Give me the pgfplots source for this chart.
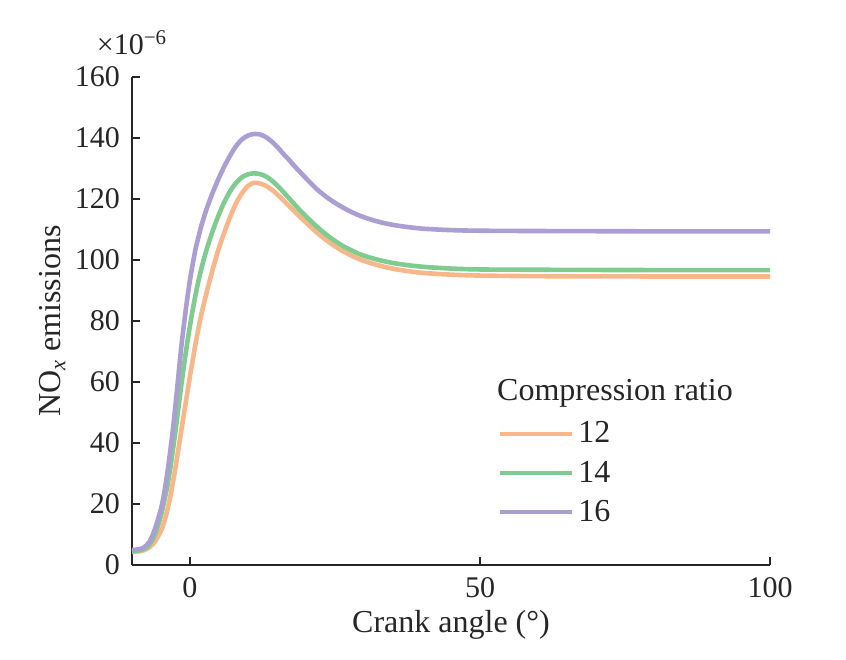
\documentclass[border=0pt]{standalone}
\usepackage{fontspec}
\setmainfont{Liberation Serif}
\usepackage{pgfplots}
\pgfplotsset{compat=1.18}
\definecolor{cor}{HTML}{F8B78B}
\definecolor{cgr}{HTML}{80CB90}
\definecolor{cpu}{HTML}{AA9ED2}
\begin{document}
\begin{tikzpicture}
\begin{axis}[
  scale only axis,
  width=319pt, height=244pt,
  xmin=-10, xmax=100, ymin=0, ymax=160,
  axis lines=left,
  axis line style={-, line width=0.9pt, color=black!85},
  xtick={0,50,100}, ytick={0,20,...,160},
  tick align=inside,
  major tick length=4pt,
  tick style={line width=0.9pt, color=black!85},
  minor tick num=0,
  clip=false,
  /pgf/number format/assume math mode=true,
  ticklabel style={font=\fontsize{15}{18}\selectfont, text=black!85},
  yticklabel style={xshift=-2.5pt},
  xticklabel style={yshift=-2.5pt},
  every axis y label/.style={at={(axis description cs:-0.125,0.5)}, anchor=center, rotate=90},
  every axis x label/.style={at={(axis description cs:0.5,-0.123)}, anchor=center},
  label style={font=\fontsize{16}{19}\selectfont, text=black!85},
  xlabel={Crank angle (°)},
  ylabel={NO\textsubscript{\textit{x}} emissions},
  legend style={draw=none, fill=none, at={(axis cs:53.0,48.4)}, anchor=north west,
    font=\fontsize{16}{19}\selectfont, text=black!85, row sep=3.5pt,
    inner sep=0pt, nodes={inner sep=2pt}},
  legend cell align=left,
  legend image code/.code={\draw[#1, line width=2.3pt] (0pt,0pt) -- (36pt,0pt);},
]
\addplot[cor, line width=2.3pt, smooth] coordinates {
(-10,4.3) (-9,4.4) (-8,4.8) (-7,5.8) (-6,7.8) (-5,11.2) (-4.5,13.8) (-4,17.2)
(-3.5,21.5) (-3,26.5) (-2.5,32) (-2,38) (-1.5,44) (-1,50) (-0.5,56) (0,62)
(0.5,67.5) (1,73) (1.5,78) (2,82.5) (2.5,86.5) (3,90.3) (3.5,94) (4,97.5)
(5,104) (6,109.5) (7,114.5) (8,118.8) (9,122) (10,124.3) (11,125.3) (12,125.1)
(13,124.4) (14,123.2) (15,121.6) (16,119.8) (17,117.9) (18,116) (19,114.1)
(20,112.3) (22,108.8) (24,105.8) (26,103.3) (28,101.3) (30,99.7) (33,98)
(36,96.8) (40,95.8) (45,95.2) (50,94.9) (60,94.7) (80,94.6) (100,94.6)
};
\addlegendentry{12}
\addplot[cgr, line width=2.3pt, smooth] coordinates {
(-10,4.5) (-9,4.7) (-8,5.2) (-7,6.7) (-6,10.2) (-5,16.3) (-4.5,20.5) (-4,25)
(-3.5,30.5) (-3,37) (-2.5,44) (-2,51.5) (-1.5,59) (-1,66) (-0.5,72.5) (0,78.5)
(0.5,84) (1,89) (1.5,93.5) (2,97.5) (2.5,101) (3,104.3) (4,110) (5,115)
(6,119.3) (7,122.8) (8,125.4) (9,127.2) (10,128.1) (11,128.4) (12,128.2)
(13,127.5) (14,126.2) (15,124.5) (16,122.5) (17,120.4) (18,118.3) (19,116.2)
(20,114.3) (22,110.7) (24,107.6) (26,105) (28,103) (30,101.4) (33,99.8)
(36,98.7) (40,97.8) (45,97.2) (50,96.9) (60,96.8) (80,96.7) (100,96.7)
};
\addlegendentry{14}
\addplot[cpu, line width=2.3pt, smooth] coordinates {
(-10,4.9) (-9,5.1) (-8,5.7) (-7,7.6) (-6,12) (-5,18.5) (-4.5,23) (-4,29)
(-3.5,36) (-3,43.5) (-2.5,52.5) (-2,62) (-1.5,71.5) (-1,79.5) (-0.5,87) (0,93.5)
(0.5,99) (1,104) (1.5,107.8) (2,111.5) (3,117.5) (4,122.5) (5,127) (6,131)
(7,134.5) (8,137.5) (9,139.6) (10,140.8) (11,141.3) (12,141.2) (13,140.4)
(14,139) (15,137.2) (16,135) (17,133) (18,130.8) (19,128.8) (20,126.8)
(22,123) (24,120) (26,117.6) (28,115.6) (30,114) (33,112.3) (36,111.2)
(40,110.3) (45,109.8) (50,109.6) (60,109.5) (80,109.4) (100,109.4)
};
\addlegendentry{16}
\node[anchor=base west, font=\fontsize{16}{19}\selectfont, text=black!85, inner sep=0pt]
  at (axis cs:52.9,53.8) {Compression ratio};
\node[anchor=base, font=\fontsize{15}{18}\selectfont, text=black!85, inner sep=0pt]
  at ([yshift=11pt]rel axis cs:0,1) {×10\textsuperscript{−6}};
\end{axis}
\pgfresetboundingbox
\useasboundingbox ([xshift=-66pt,yshift=-47pt]current axis.south west) rectangle ([xshift=38pt,yshift=38.5pt]current axis.north east);
\end{tikzpicture}
\end{document}
